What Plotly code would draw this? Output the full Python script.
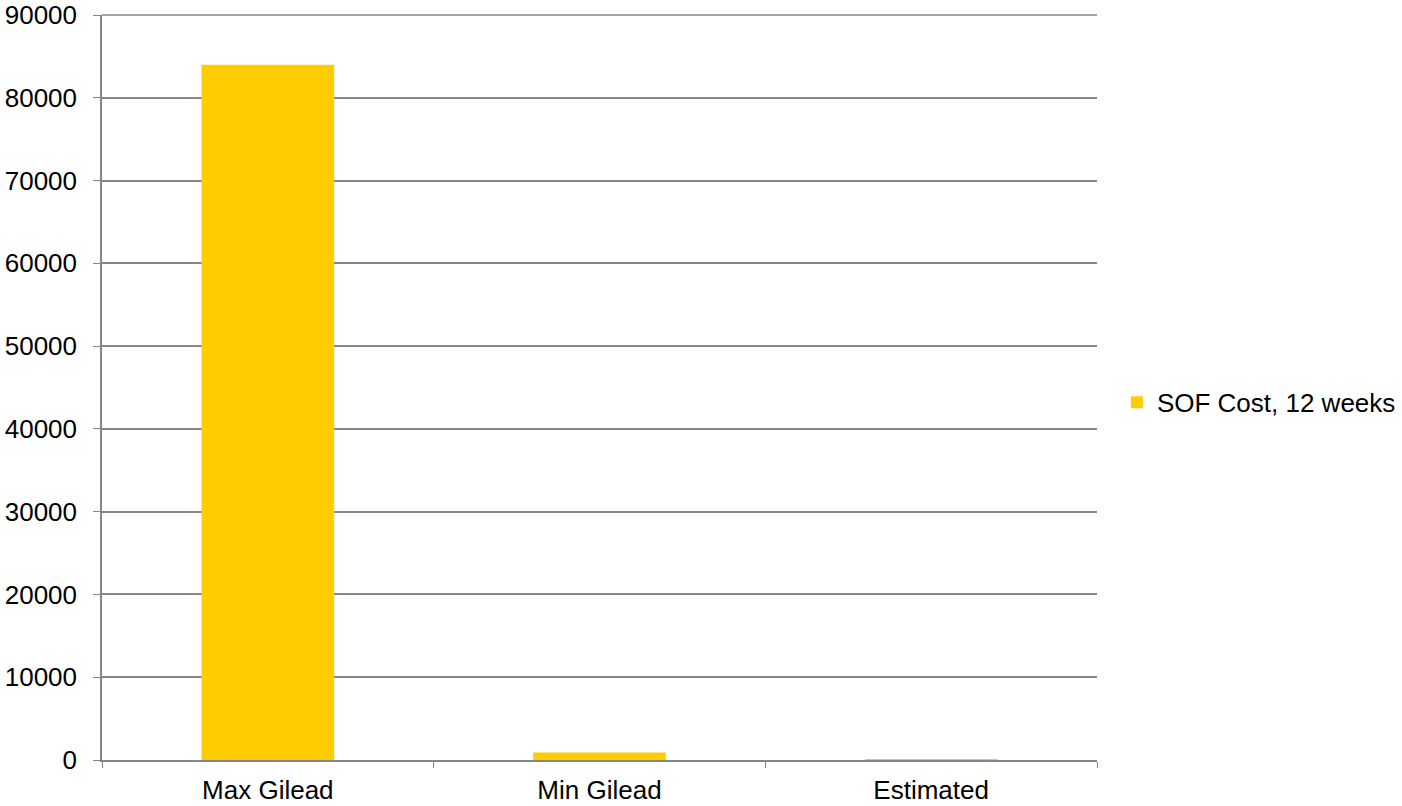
import plotly.graph_objects as go

categories = ["Max Gilead", "Min Gilead", "Estimated"]
values = [84000, 900, 100]
series_name = "SOF Cost, 12 weeks"
y_ticks = [0, 10000, 20000, 30000, 40000, 50000, 60000, 70000, 80000, 90000]

fig = go.Figure()
fig.add_trace(go.Bar(x=categories, y=values, name=series_name,
                     marker=dict(color="#FFCC00", line=dict(width=0)),
                     showlegend=True))

axis_color = "#868686"
fig.update_layout(
    width=1402, height=806,
    margin=dict(l=102, r=305, t=15, b=46, autoexpand=False),
    paper_bgcolor="white", plot_bgcolor="white",
    font=dict(family="Liberation Sans, Arial, sans-serif", size=26, color="#000000"),
    bargap=0.6,
    showlegend=True,
    legend=dict(x=1.02, xanchor="left", y=0.48, yanchor="middle",
                font=dict(size=26), itemwidth=30),
    xaxis=dict(showline=True, linecolor=axis_color, linewidth=1.5,
               ticks="outside", tickson="boundaries", ticklen=6, tickcolor=axis_color,
               showgrid=False, zeroline=False, automargin=False,
               ticklabelstandoff=6),
    yaxis=dict(range=[0, 90000], tickmode="array", tickvals=y_ticks,
               showline=True, linecolor=axis_color,
               linewidth=1.5, ticks="outside", ticklen=7, tickcolor=axis_color,
               showgrid=True, gridcolor=axis_color, gridwidth=1.5,
               zeroline=False, tickformat="d", automargin=False,
               ticklabelstandoff=11),
    shapes=[dict(type="line", xref="paper", yref="paper", x0=0, x1=1, y0=1, y1=1,
                 line=dict(color=axis_color, width=1.5), layer="below")],
)

fig.write_html("out.html", config={"displayModeBar": False},
               post_script="document.body.style.margin='0px';document.body.style.overflow='hidden';")
